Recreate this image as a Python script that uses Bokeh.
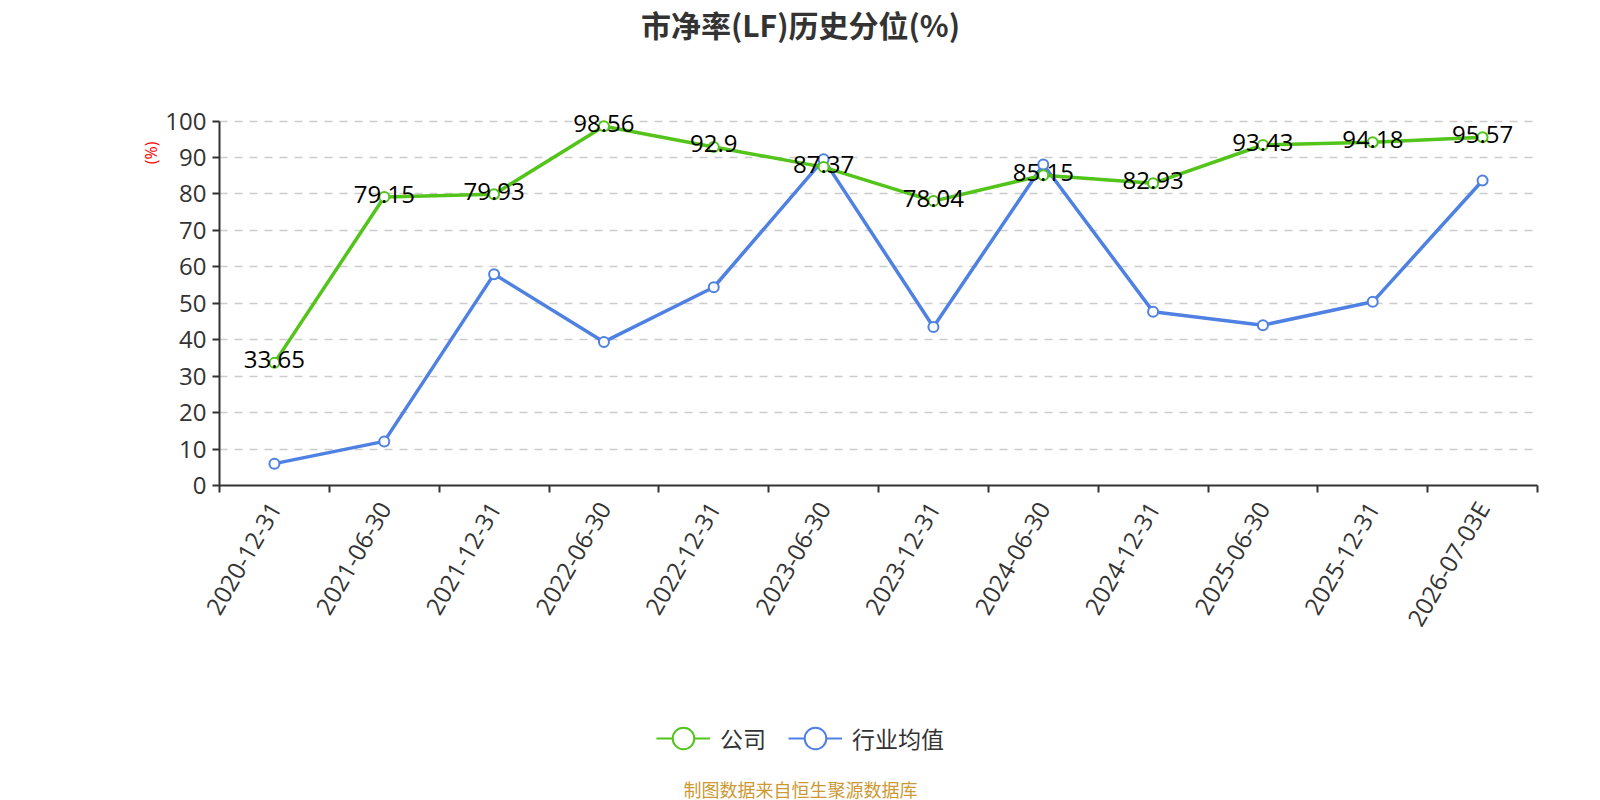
import math
from bokeh.plotting import figure
from bokeh.layouts import column
from bokeh.models import (ColumnDataSource, FixedTicker, Label, Legend, LegendItem,
                          Range1d, Title)
from bokeh.embed import file_html
from bokeh.resources import INLINE
from bokeh.core.properties import value

categories = ["2020-12-31", "2021-06-30", "2021-12-31", "2022-06-30", "2022-12-31",
              "2023-06-30", "2023-12-31", "2024-06-30", "2024-12-31", "2025-06-30",
              "2025-12-31", "2026-07-03E"]
company = [33.65, 79.15, 79.93, 98.56, 92.9, 87.37, 78.04, 85.15, 82.93, 93.43, 94.18, 95.57]
industry = [6.0, 12.1, 58.0, 39.4, 54.4, 89.5, 43.5, 88.1, 47.7, 44.0, 50.4, 83.7]
y_ticks = [0, 10, 20, 30, 40, 50, 60, 70, 80, 90, 100]
series_names = ["公司", "行业均值"]
title_text = "市净率(LF)历史分位(%)"
axis_name = "(%)"
footer_text = "制图数据来自恒生聚源数据库"

GREEN = "#52C41A"
BLUE = "#4F81E3"
NUM_FONT = "Open Sans"
CJK_FONT = "Noto Sans CJK SC"
W = 1600
LEFT, RIGHT = 219, 63
FW = W - LEFT - RIGHT          # frame width shared by all three figures
CX = W / 2 - LEFT              # page centre, relative to the frame's left edge


def blank_fig(h):
    f = figure(width=W, height=h, output_backend="svg", toolbar_location=None,
               x_range=Range1d(0, FW), y_range=Range1d(0, h),
               x_axis_location=None, y_axis_location=None,
               min_border_left=LEFT, min_border_right=RIGHT,
               min_border_top=0, min_border_bottom=0)
    f.outline_line_color = None
    f.grid.visible = False
    return f


# ---------- title ----------
top = blank_fig(60)
top.add_layout(Label(x=CX, y=37, x_units="screen", y_units="screen", text=title_text,
                     text_font=CJK_FONT, text_font_size="30px", text_font_style="bold",
                     text_color="#333333", text_align="center", text_baseline="middle"))

# ---------- main chart ----------
xs = [i + 0.5 for i in range(len(categories))]
src = ColumnDataSource(dict(x=xs, company=company, industry=industry,
                            label=[str(v) for v in company]))

p = figure(width=W, height=620, output_backend="svg", toolbar_location=None,
           x_range=Range1d(0, len(categories)), y_range=Range1d(0, 104),
           min_border_left=LEFT, min_border_right=RIGHT, min_border_top=46,
           min_border_bottom=195)
p.outline_line_color = None

xa = p.xaxis[0]
xa.ticker = FixedTicker(ticks=xs, minor_ticks=list(range(len(categories) + 1)))
xa.major_label_overrides = {x: c for x, c in zip(xs, categories)}
xa.major_label_orientation = math.pi / 3
xa.major_tick_out = 0
xa.major_tick_in = 0
xa.minor_tick_out = 7
xa.minor_tick_in = 0
xa.minor_tick_line_color = "#333333"
xa.minor_tick_line_width = 2
xa.axis_line_color = "#333333"
xa.axis_line_width = 2
xa.major_label_text_font = NUM_FONT
xa.major_label_text_font_size = "24px"
xa.major_label_text_color = "#333333"
xa.major_label_standoff = 11

ya = p.yaxis[0]
ya.ticker = FixedTicker(ticks=y_ticks)
ya.bounds = (0, 100)
ya.minor_tick_line_color = None
ya.major_tick_out = 7
ya.major_tick_in = 0
ya.major_tick_line_color = "#333333"
ya.major_tick_line_width = 2
ya.axis_line_color = "#333333"
ya.axis_line_width = 2
ya.major_label_text_font = NUM_FONT
ya.major_label_text_font_size = "24px"
ya.major_label_text_color = "#333333"
ya.major_label_standoff = 6

# axis name "(%)" as a side title, near the top of the y axis
p.add_layout(Title(text=axis_name, align="right", offset=35, standoff=2,
                   text_font=NUM_FONT, text_font_size="16px", text_font_style="normal",
                   text_color="red"), "left")

p.xgrid.visible = False
p.ygrid.ticker = FixedTicker(ticks=y_ticks[1:])
p.ygrid.grid_line_color = "#CCCCCC"
p.ygrid.grid_line_width = 1.5
p.ygrid.grid_line_dash = "8 7"

p.line("x", "industry", source=src, line_color=BLUE, line_width=3.5)
p.scatter("x", "industry", source=src, size=10, marker="circle",
          fill_color="white", line_color=BLUE, line_width=2)
p.line("x", "company", source=src, line_color=GREEN, line_width=3.5)
p.scatter("x", "company", source=src, size=10, marker="circle",
          fill_color="white", line_color=GREEN, line_width=2)
p.text("x", "company", text="label", source=src, text_font=value(NUM_FONT),
       text_font_size="24px", text_color="black", text_align="center",
       text_baseline="middle", y_offset=-3)

# ---------- legend + footer ----------
bot = blank_fig(120)
# legend-only renderers: points far outside the visible range
off = ColumnDataSource(dict(x=[-5000, -4999], y=[-5000, -5000]))
g_line = bot.line("x", "y", source=off, line_color=GREEN, line_width=2)
g_dot = bot.scatter("x", "y", source=off, marker="circle", fill_color="white",
                    line_color=GREEN, line_width=2)
b_line = bot.line("x", "y", source=off, line_color=BLUE, line_width=2)
b_dot = bot.scatter("x", "y", source=off, marker="circle", fill_color="white",
                    line_color=BLUE, line_width=2)
legend = Legend(items=[LegendItem(label=series_names[0], renderers=[g_line, g_dot]),
                       LegendItem(label=series_names[1], renderers=[b_line, b_dot])],
                location=(656 - LEFT, 34), orientation="horizontal",
                glyph_width=54, glyph_height=56, label_standoff=10, spacing=22,
                padding=0, margin=0, border_line_color=None,
                background_fill_alpha=0, label_text_font=CJK_FONT,
                label_text_font_size="23px", label_text_color="#333333")
bot.add_layout(legend, "center")
bot.add_layout(Label(x=CX, y=12, x_units="screen", y_units="screen", text=footer_text,
                     text_font=CJK_FONT, text_font_size="18px", text_color="#CC9933",
                     text_align="center", text_baseline="middle"))

layout = column(top, p, bot, spacing=0)
open("out.html", "w").write(file_html(layout, INLINE))
